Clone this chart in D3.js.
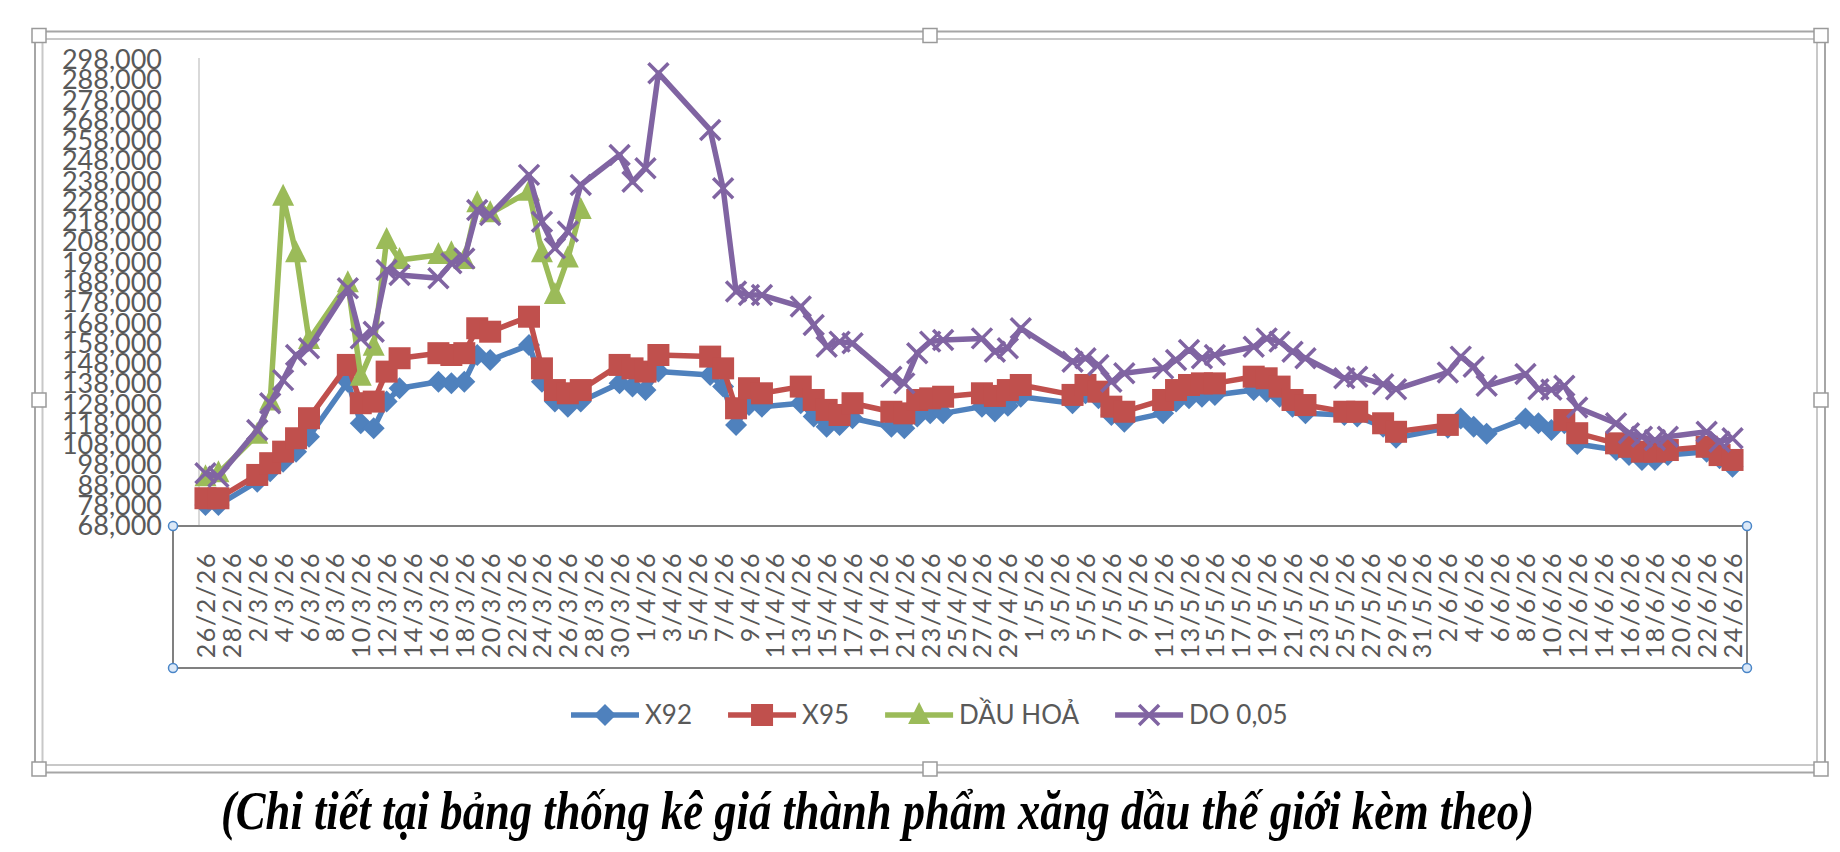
<!DOCTYPE html>
<html>
<head>
<meta charset="utf-8">
<script src="https://cdn.jsdelivr.net/npm/d3@7"></script>
<style>
  body { margin: 0; background: #fff; }
  svg { display: block; }
</style>
</head>
<body>
<svg id="chart" width="1840" height="852"></svg>
<script>
// ngày có số liệu (ngày giao dịch)
const dates = [
  "26/2/26","27/2/26",
  "2/3/26","3/3/26","4/3/26","5/3/26","6/3/26","9/3/26","10/3/26","11/3/26","12/3/26","13/3/26",
  "16/3/26","17/3/26","18/3/26","19/3/26","20/3/26","23/3/26","24/3/26","25/3/26","26/3/26","27/3/26",
  "30/3/26","31/3/26",
  "1/4/26","2/4/26","6/4/26","7/4/26","8/4/26","9/4/26","10/4/26","13/4/26","14/4/26","15/4/26",
  "16/4/26","17/4/26","20/4/26","21/4/26","22/4/26","23/4/26","24/4/26","27/4/26","28/4/26","29/4/26","30/4/26",
  "4/5/26","5/5/26","6/5/26","7/5/26","8/5/26","11/5/26","12/5/26","13/5/26","14/5/26","15/5/26",
  "18/5/26","19/5/26","20/5/26","21/5/26","22/5/26","25/5/26","26/5/26","28/5/26","29/5/26",
  "2/6/26","3/6/26","4/6/26","5/6/26","8/6/26","9/6/26","10/6/26","11/6/26","12/6/26",
  "15/6/26","16/6/26","17/6/26","18/6/26","19/6/26","22/6/26","23/6/26","24/6/26"
];

const x92 = [
  78400, 78400,
  89900, 95000, 99700, 104700, 112100, 139200, 118700, 116200, 129400, 136000,
  139200, 138400, 139200, 152400, 149900, 157300, 139200, 129400, 126900, 129400,
  138400, 136800,
  135100, 144200, 142500, 136800, 117900, 127700, 126900, 128600, 122000, 117000,
  117900, 121200, 117000, 116200, 122000, 123600, 123600, 126900, 124500, 127300, 131800,
  128600, 133500, 131000, 122800, 119500, 123600, 129400, 131000, 131800, 132700,
  135100, 134300, 131800, 126900, 123600, 122800, 122000, 117000, 111500,
  116500, 121000, 117000, 113500, 121000, 118700, 115400, 118700, 108500,
  105500, 103000, 100600, 100600, 103000, 104700, 101400, 97300
];

const x95 = [
  81700, 81700,
  93200, 99000, 104700, 111300, 121200, 147500, 128600, 129400, 144200, 150800,
  153300, 152400, 153300, 165600, 163900, 171300, 145800, 135100, 133500, 135100,
  147500, 145800,
  144200, 152400, 151600, 145800, 126100, 136000, 133500, 136800, 130200, 125300,
  122800, 128600, 124400, 123600, 130200, 131000, 131800, 133500, 132200, 135100, 137600,
  132700, 137600, 134300, 126900, 124400, 130200, 135100, 137600, 138400, 138400,
  141700, 140900, 136800, 130200, 127700, 124400, 124400, 118700, 114500,
  117900, null, null, null, null, null, null, 120300, 113800,
  108800, 107100, 104700, 104700, 105500, 107100, 103000, 100600
];

// dầu hoả chỉ có số liệu đến 27/3
const dauHoa = [
  92000, 94000,
  113000, 129400, 230500, 202600, 159800, 187800, 141700, 156500, 209200, 199300,
  201800, 202600, 199300, 227300, 222300, 233000, 202600, 182000, 200000, 224000
];

const do005 = [
  94000, 92300,
  115400, 128600, 140000, 152400, 155700, 185300, 160600, 163900, 194400, 191900,
  190300, 197700, 200000, 224000, 221500, 241300, 218200, 205100, 213300, 236300,
  251100, 237900,
  244600, 291500, 263500, 234700, 183700, 182000, 182000, 176300, 167200, 156500,
  159000, 158200, 141700, 138400, 153300, 159000, 159800, 160600, 154000, 155700, 165600,
  149100, 150800, 147500, 139200, 143400, 145800, 149900, 154900, 150800, 152400,
  156500, 160600, 159000, 154000, 150800, 140900, 141700, 138000, 135500,
  143800, 151600, 146600, 137200, 143000, 135500, 135200, 137200, 126500,
  118700, 113800, 112100, 110400, 112100, 114500, 109600, 111300
];

const yTicks = [68000, 78000, 88000, 98000, 108000, 118000, 128000, 138000, 148000, 158000,
  168000, 178000, 188000, 198000, 208000, 218000, 228000, 238000, 248000, 258000,
  268000, 278000, 288000, 298000];

const xLabels = [
  "26/2/26","28/2/26",
  "2/3/26","4/3/26","6/3/26","8/3/26","10/3/26","12/3/26","14/3/26","16/3/26","18/3/26","20/3/26",
  "22/3/26","24/3/26","26/3/26","28/3/26","30/3/26",
  "1/4/26","3/4/26","5/4/26","7/4/26","9/4/26","11/4/26","13/4/26","15/4/26","17/4/26","19/4/26",
  "21/4/26","23/4/26","25/4/26","27/4/26","29/4/26",
  "1/5/26","3/5/26","5/5/26","7/5/26","9/5/26","11/5/26","13/5/26","15/5/26","17/5/26","19/5/26",
  "21/5/26","23/5/26","25/5/26","27/5/26","29/5/26","31/5/26",
  "2/6/26","4/6/26","6/6/26","8/6/26","10/6/26","12/6/26","14/6/26","16/6/26","18/6/26","20/6/26",
  "22/6/26","24/6/26"
];

const seriesNames = ["X92", "X95", "DẦU HOẢ", "DO 0,05"];
const seriesColors = ["#4f81bd", "#c0504d", "#9bbb59", "#8064a2"];
const seriesMarkers = ["diamond", "square", "triangle", "cross"];
const caption = "(Chi tiết tại bảng thống kê giá thành phẩm xăng dầu thế giới kèm theo)";

const parse = d3.timeParse("%d/%m/%y");
const fmt = d => d.getDate() + "/" + (d.getMonth() + 1) + "/" + String(d.getFullYear()).slice(2);

const svg = d3.select("#chart");
svg.append("rect").attr("width", 1840).attr("height", 852).attr("fill", "#fff");

// khung chọn của biểu đồ (2 đường viền + các nút)
const frame = svg.append("g");
frame.append("rect").attr("x", 35).attr("y", 31.5).attr("width", 1790).attr("height", 741)
  .attr("fill", "none").attr("stroke", "#a6a6a6").attr("stroke-width", 2);
frame.append("rect").attr("x", 42.5).attr("y", 39).attr("width", 1774.5).attr("height", 726)
  .attr("fill", "none").attr("stroke", "#c8c8c8").attr("stroke-width", 2);
const handles = [[39, 35.5], [930, 35.5], [1821, 35.5], [39, 400], [1821, 400], [39, 769], [930, 769], [1821, 769]];
frame.selectAll(".h").data(handles).enter().append("rect")
  .attr("x", d => d[0] - 7).attr("y", d => d[1] - 7).attr("width", 14).attr("height", 14)
  .attr("fill", "#fff").attr("stroke", "#9a9a9a").attr("stroke-width", 1.5);

const first = parse(dates[0]), last = parse(dates[dates.length - 1]);
const x = d3.scaleTime()
  .domain([d3.timeHour.offset(first, -12), d3.timeHour.offset(last, 12)])
  .range([199, 1739]);
const y = d3.scaleLinear().domain([68000, 298000]).range([526, 60]);

// trục dọc
svg.append("line").attr("x1", 199).attr("x2", 199).attr("y1", 58).attr("y2", 526)
  .attr("stroke", "#d9d9d9").attr("stroke-width", 2);

svg.append("g").attr("transform", "translate(199,0)")
  .call(d3.axisLeft(y).tickValues(yTicks).tickSize(0).tickPadding(37).tickFormat(d3.format(",")))
  .call(g => g.select(".domain").remove())
  .selectAll("text")
  .attr("font-family", "Lato, 'Open Sans', sans-serif")
  .attr("font-size", 27)
  .attr("fill", "#595959");

// trục ngang + hộp nhãn
svg.append("g").attr("transform", "translate(0,526)")
  .call(d3.axisBottom(x).tickValues(xLabels.map(parse)).tickSize(0).tickFormat(fmt))
  .call(g => g.select(".domain").remove())
  .selectAll("text")
  .attr("transform", "rotate(-90)")
  .attr("text-anchor", "end")
  .attr("x", -26).attr("y", 0).attr("dy", "0.36em")
  .attr("font-family", "Lato, 'Open Sans', sans-serif")
  .attr("font-size", 25)
  .attr("letter-spacing", 1.6)
  .attr("fill", "#595959");

const box = svg.append("g");
box.append("rect").attr("x", 173).attr("y", 526).attr("width", 1574).attr("height", 142)
  .attr("fill", "none").attr("stroke", "#808080").attr("stroke-width", 2);
[[173, 526], [1747, 526], [173, 668], [1747, 668]].forEach(p => {
  box.append("circle").attr("cx", p[0]).attr("cy", p[1]).attr("r", 4.5)
    .attr("fill", "#dce9f8").attr("stroke", "#4a86c8").attr("stroke-width", 1.5);
});

function drawMarker(g, type, color) {
  if (type === "diamond") {
    g.append("path").attr("d", "M0,-11L11,0L0,11L-11,0Z").attr("fill", color);
  } else if (type === "square") {
    g.append("rect").attr("x", -11).attr("y", -11).attr("width", 22).attr("height", 22).attr("fill", color);
  } else if (type === "triangle") {
    g.append("path").attr("d", "M0,-13L11,9L-11,9Z").attr("fill", color);
  } else {
    g.append("path").attr("d", "M-10,-10L10,10M-10,10L10,-10")
      .attr("stroke", color).attr("stroke-width", 3.5).attr("fill", "none");
  }
}

const allSeries = [x92, x95, dauHoa, do005];
const line = d3.line()
  .defined(d => d.v != null)
  .x(d => x(d.date))
  .y(d => y(d.v));

allSeries.forEach((arr, i) => {
  const pts = dates.map((d, j) => ({ date: parse(d), v: arr[j] == null ? null : arr[j] }));
  const g = svg.append("g");
  g.append("path").datum(pts).attr("d", line)
    .attr("fill", "none").attr("stroke", seriesColors[i]).attr("stroke-width", 5.5)
    .attr("stroke-linejoin", "round");
  pts.filter(p => p.v != null).forEach(p => {
    const m = g.append("g").attr("transform", `translate(${x(p.date)},${y(p.v)})`);
    drawMarker(m, seriesMarkers[i], seriesColors[i]);
  });
});

// chú giải
const legend = svg.append("g");
let lx = 571;
seriesNames.forEach((name, i) => {
  const it = legend.append("g");
  it.append("line").attr("x1", lx).attr("x2", lx + 68).attr("y1", 715).attr("y2", 715)
    .attr("stroke", seriesColors[i]).attr("stroke-width", 5.5);
  const m = it.append("g").attr("transform", `translate(${lx + 34},715)`);
  drawMarker(m, seriesMarkers[i], seriesColors[i]);
  const t = it.append("text").attr("x", lx + 74).attr("y", 715).attr("dy", "0.36em")
    .attr("font-family", "Lato, 'Open Sans', sans-serif").attr("font-size", 26)
    .attr("fill", "#595959").text(name);
  lx += 74 + t.node().getComputedTextLength() + 36;
});

// chú thích dưới biểu đồ (chữ cao, hẹp như bản gốc)
svg.append("text").attr("x", 221).attr("y", 829)
  .attr("font-family", "'Liberation Serif', 'Times New Roman', serif")
  .attr("font-style", "italic").attr("font-weight", "bold")
  .attr("font-size", 54)
  .attr("textLength", 1313).attr("lengthAdjust", "spacingAndGlyphs")
  .attr("fill", "#000").text(caption);
</script>
</body>
</html>
